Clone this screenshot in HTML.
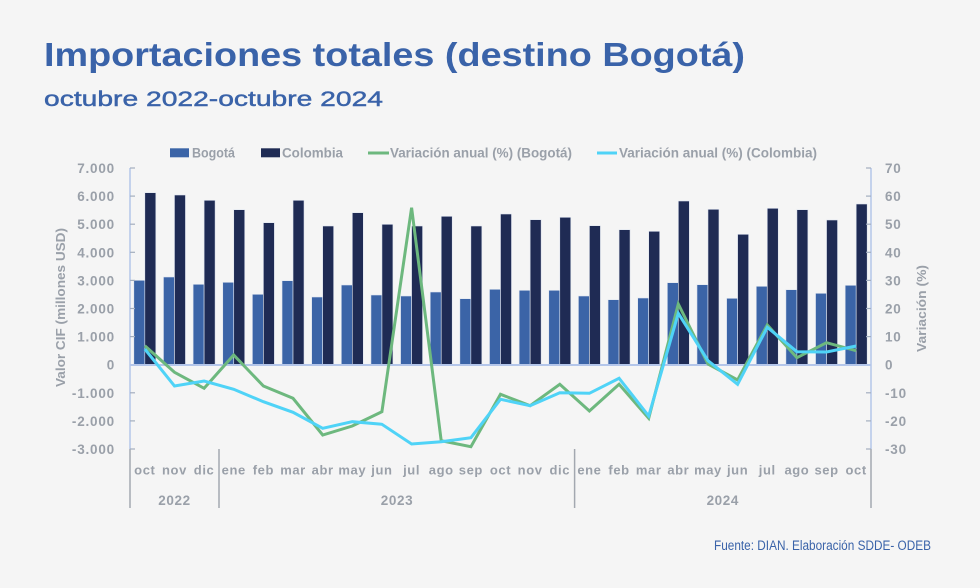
<!DOCTYPE html>
<html><head><meta charset="utf-8"><style>
html,body{margin:0;padding:0;background:#f5f5f5;}
svg{display:block;}
text{font-family:"Liberation Sans",sans-serif;}
</style></head><body>
<svg width="980" height="588" viewBox="0 0 980 588" xmlns="http://www.w3.org/2000/svg">
<rect width="980" height="588" fill="#f5f5f5"/>
<text x="44" y="66" font-size="33" font-weight="bold" fill="#3a63a9" textLength="701" lengthAdjust="spacingAndGlyphs">Importaciones totales (destino Bogotá)</text>
<text x="44" y="106" font-size="21.5" fill="#3a63a9" stroke="#3a63a9" stroke-width="0.45" textLength="339" lengthAdjust="spacingAndGlyphs">octubre 2022-octubre 2024</text>

<!-- legend -->
<g font-size="13.5" font-weight="bold" fill="#9aa0a9">
<rect x="170" y="148.3" width="19" height="9" fill="#3b64a7"/>
<text x="192" y="157.5" textLength="43" lengthAdjust="spacingAndGlyphs">Bogotá</text>
<rect x="261" y="148.3" width="19" height="9" fill="#1f2b54"/>
<text x="282" y="157.5" textLength="61" lengthAdjust="spacingAndGlyphs">Colombia</text>
<line x1="368" y1="153" x2="389" y2="153" stroke="#6db87e" stroke-width="3"/>
<text x="390" y="157.5" textLength="182" lengthAdjust="spacingAndGlyphs">Variación anual (%) (Bogotá)</text>
<line x1="597" y1="153" x2="617" y2="153" stroke="#4fd3f7" stroke-width="3"/>
<text x="619" y="157.5" textLength="198" lengthAdjust="spacingAndGlyphs">Variación anual (%) (Colombia)</text>
</g>

<!-- bars -->
<g id="bars"></g>

<!-- axes -->
<g stroke="#b4c6ea" stroke-width="1.5" fill="none">
<line x1="130" y1="168" x2="130" y2="449"/>
<line x1="871" y1="168" x2="871" y2="449"/>
</g>
<g stroke="#a3a8b0" stroke-width="1.5">
<line x1="130" y1="449" x2="130" y2="508"/>
<line x1="871" y1="449" x2="871" y2="508"/>
<line x1="219" y1="449" x2="219" y2="508"/>
<line x1="574.6" y1="449" x2="574.6" y2="508"/>
</g>
<g id="ticks" stroke="#a3aebf" stroke-width="1.2"></g>
<line x1="130" y1="365" x2="871" y2="365" stroke="#b4c6ea" stroke-width="2"/>

<g id="lines"></g>

<g id="labels" font-size="13" font-weight="bold" fill="#9aa0a9"></g>

<text transform="translate(65,307.5) rotate(-90)" text-anchor="middle" font-size="13" font-weight="bold" fill="#9aa0a9" textLength="159" lengthAdjust="spacingAndGlyphs">Valor CIF (millones USD)</text>
<text transform="translate(926,308.5) rotate(-90)" text-anchor="middle" font-size="13" font-weight="bold" fill="#9aa0a9" textLength="87" lengthAdjust="spacingAndGlyphs">Variación (%)</text>

<text x="714" y="550" font-size="13.5" fill="#3a63a9" textLength="217" lengthAdjust="spacingAndGlyphs">Fuente: DIAN. Elaboración SDDE- ODEB</text>

<script>
(function(){
var NS="http://www.w3.org/2000/svg";
function el(t,a,p){var e=document.createElementNS(NS,t);for(var k in a)e.setAttribute(k,a[k]);p.appendChild(e);return e;}
var bog=[280.3,277,284.3,282.3,294.3,280.7,297,285,295,296,292,298.7,289.3,290.3,290.3,296,299.7,298,282.7,284.7,298.3,286.3,289.7,293.3,285.3];
var col=[192.7,195,200.3,209.7,222.7,200.3,226,212.7,224.3,226,216.3,226,214,219.7,217.3,225.7,229.7,231.3,201,209.3,234.3,208.3,209.7,220,204];
var gr=[345.7,372.3,388.3,355,386,398.3,435,426,411.7,207.7,440.7,446.7,394.3,405.7,384.3,411,384.3,418.3,304,364,380,325,357.7,342.7,350.7];
var cy=[349,386,381,389.3,401.7,412.3,428.3,421.7,424.3,444,441.7,437.7,399.3,405.7,392.7,393.3,378.3,416,313.3,360.7,384.3,327.3,351.7,352,346];
var m=["oct","nov","dic","ene","feb","mar","abr","may","jun","jul","ago","sep","oct","nov","dic","ene","feb","mar","abr","may","jun","jul","ago","sep","oct"];
var step=(871-130)/25;
var bars=document.getElementById("bars"),lines=document.getElementById("lines"),labels=document.getElementById("labels"),ticks=document.getElementById("ticks");
var gp=[],cp=[];
for(var i=0;i<25;i++){
 var cx=130+step*(i+0.5);
 el("rect",{x:cx-11,y:bog[i],width:11,height:365-bog[i],fill:"#3b64a7",stroke:"#dfe5f0","stroke-width":"0.6"},bars);
 el("rect",{x:cx,y:col[i],width:11,height:365-col[i],fill:"#1f2b54",stroke:"#dfe5f0","stroke-width":"0.6"},bars);
 gp.push(cx.toFixed(1)+","+gr[i]);cp.push(cx.toFixed(1)+","+cy[i]);
 var t=el("text",{x:cx,y:474.5,"text-anchor":"middle","letter-spacing":"0.6"},labels);t.textContent=m[i];
}
el("polyline",{points:gp.join(" "),fill:"none",stroke:"#6db87e","stroke-width":"3","stroke-linejoin":"miter"},lines);
el("polyline",{points:cp.join(" "),fill:"none",stroke:"#4fd3f7","stroke-width":"3","stroke-linejoin":"miter"},lines);
var yrs=[["2022",174.5],["2023",397],["2024",722.8]];
yrs.forEach(function(y){var t=el("text",{x:y[1],y:505,"text-anchor":"middle","letter-spacing":"0.6","font-size":"13.5"},labels);t.textContent=y[0];});
var L=["7.000","6.000","5.000","4.000","3.000","2.000","1.000","0","-1.000","-2.000","-3.000"];
var R=["70","60","50","40","30","20","10","0","-10","-20","-30"];
for(var k=0;k<11;k++){
 var y=168+k*(449-168)/10;
 var t=el("text",{x:115,y:y+5,"text-anchor":"end","letter-spacing":"0.8","font-size":"13.5"},labels);t.textContent=L[k];
 var t2=el("text",{x:885,y:y+5,"text-anchor":"start","letter-spacing":"0.8","font-size":"13.5"},labels);t2.textContent=R[k];
 el("line",{x1:130,y1:y,x2:135,y2:y},ticks);
 el("line",{x1:866,y1:y,x2:871,y2:y},ticks);
}
})();
</script>
</svg>
</body></html>
